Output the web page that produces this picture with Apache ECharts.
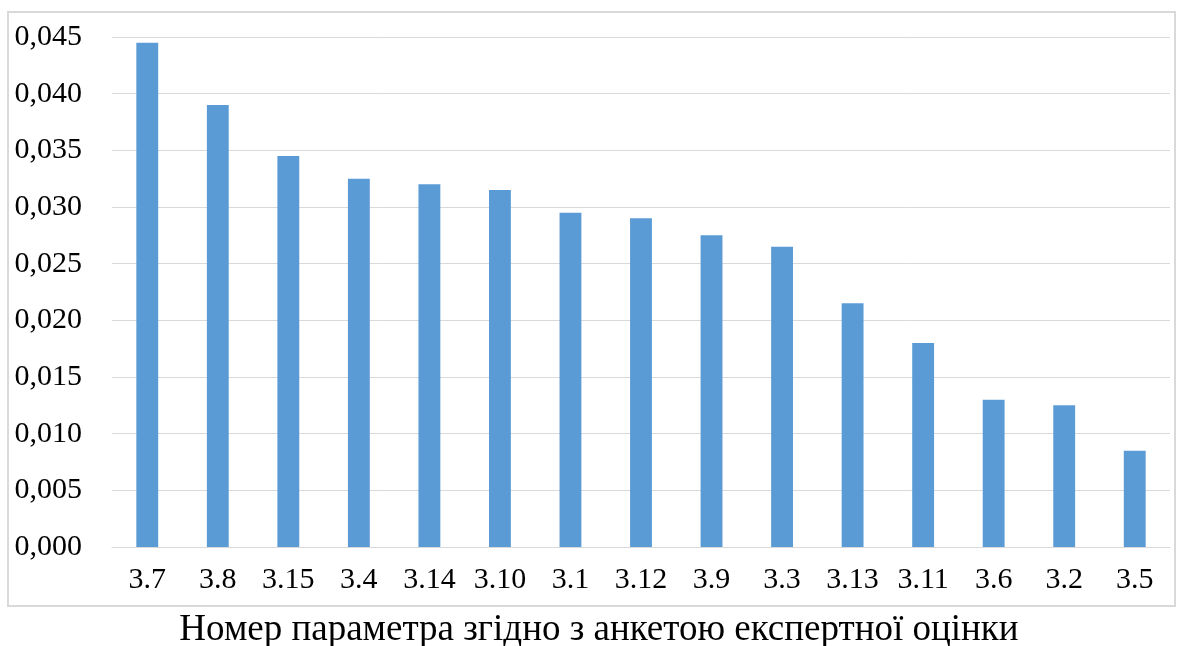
<!DOCTYPE html>
<html><head><meta charset="utf-8">
<script src="https://cdn.jsdelivr.net/npm/echarts@6/dist/echarts.min.js"></script>
<style>html,body{margin:0;padding:0;background:#fff}#c{width:1179px;height:646px}</style>
</head><body><div id="c"></div>
<script>
const categories = ['3.7','3.8','3.15','3.4','3.14','3.10','3.1','3.12','3.9','3.3','3.13','3.11','3.6','3.2','3.5'];
const values = [0.0445,0.039,0.0345,0.0325,0.032,0.0315,0.0295,0.029,0.0275,0.0265,0.0215,0.018,0.013,0.0125,0.0085];
const xTitle = 'Номер параметра згідно з анкетою експертної оцінки';
const font = '"Liberation Serif", "Times New Roman", serif';
const chart = echarts.init(document.getElementById('c'));
chart.setOption({
  animation: false,
  grid: {left: 112, right: 9, top: 37, bottom: 99, containLabel: false, outerBoundsMode: 'none'},
  graphic: [
    {type: 'rect', shape: {x: 8, y: 12, width: 1167, height: 594}, style: {fill: 'none', stroke: '#d9d9d9', lineWidth: 2}, z: -1},
    {type: 'text', x: 599, y: 630, style: {text: xTitle, font: '37px ' + font, fill: '#000', textAlign: 'center', textVerticalAlign: 'middle'}}
  ],
  xAxis: {
    type: 'category', data: categories,
    axisLine: {show: true, lineStyle: {color: '#d9d9d9', width: 1}},
    axisTick: {show: false},
    axisLabel: {fontFamily: font, fontSize: 30, color: '#000', margin: 18}
  },
  yAxis: {
    type: 'value', min: 0, max: 0.045, interval: 0.005,
    axisLine: {show: false}, axisTick: {show: false},
    splitLine: {lineStyle: {color: '#d9d9d9', width: 1}},
    axisLabel: {fontFamily: font, fontSize: 30, color: '#000', margin: 30,
      formatter: v => v.toFixed(3).replace('.', ',')}
  },
  series: [{type: 'bar', data: values, barWidth: '31%', itemStyle: {color: '#5b9bd5'}}]
});
</script></body></html>
